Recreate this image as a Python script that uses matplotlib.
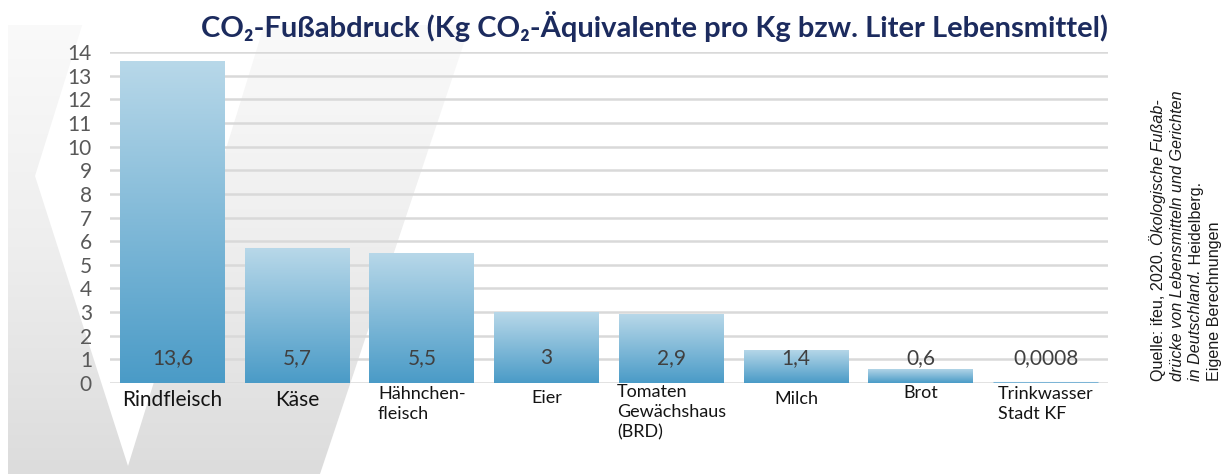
import numpy as np
import matplotlib
matplotlib.use("Agg")
import matplotlib.pyplot as plt
from matplotlib.patches import Polygon
from matplotlib.colors import LinearSegmentedColormap

# ---------------- data ----------------
categories = ["Rindfleisch", "Käse", "Hähnchen-\nfleisch", "Eier",
              "Tomaten\nGewächshaus\n(BRD)", "Milch", "Brot", "Trinkwasser\nStadt KF"]
values = [13.6, 5.7, 5.5, 3.0, 2.9, 1.4, 0.6, 0.0008]
value_labels = ["13,6", "5,7", "5,5", "3", "2,9", "1,4", "0,6", "0,0008"]
y_ticks = list(range(0, 15))
title = "CO₂-Fußabdruck (Kg CO₂-Äquivalente pro Kg bzw. Liter Lebensmittel)"
source_lines = [
    [("Quelle: ifeu, 2020. ", "normal"), ("Ökologische Fußab-", "italic")],
    [("drücke von Lebensmitteln und Gerichten", "italic")],
    [("in Deutschland.", "italic"), (" Heidelberg.", "normal")],
    [("Eigene Berechnungen", "normal")],
]

# ---------------- style ----------------
W, H, DPI = 1227, 474, 100
FONT = ["Lato", "DejaVu Sans"]
label_sizes = [15, 15, 13, 13, 13, 13, 13, 13]
label_offsets = [-5, -5, -2.5, -5, -1, -5.5, -1.5, -2.5]  # points below baseline

fig = plt.figure(figsize=(W / DPI, H / DPI), dpi=DPI)
fig.patch.set_facecolor("white")

# background decoration (grey panel with white chevron), in pixel coords
bg = fig.add_axes([0, 0, 1, 1], zorder=0)
bg.set_xlim(0, W)
bg.set_ylim(H, 0)
bg.axis("off")
grey_cmap = LinearSegmentedColormap.from_list("g", ["#fafafa", "#eeeeee", "#dcdcdc"])
grad = np.linspace(0, 1, 256).reshape(-1, 1)
im = bg.imshow(grad, cmap=grey_cmap, extent=[0, W, H, 20], aspect="auto", zorder=0)
panel = Polygon([(8, 25), (470, 25), (320, H), (8, H)], closed=True,
                facecolor="none", edgecolor="none", transform=bg.transData)
bg.add_patch(panel)
im.set_clip_path(panel)
chev = Polygon([(90, 0), (272, 0), (128, 466), (35, 176)], closed=True,
               facecolor="white", edgecolor="none", zorder=1)
bg.add_patch(chev)

# main axes
ax = fig.add_axes([110 / W, (H - 383) / H, 998 / W, (383 - 52) / H], zorder=2)
ax.patch.set_alpha(0)
x = np.arange(len(categories))
bars = ax.bar(x, values, width=0.84, color="none", linewidth=0, zorder=3)

blue_cmap = LinearSegmentedColormap.from_list("b", ["#4a9bc7", "#b8d8e9"])
for b in bars:
    x0, w, h = b.get_x(), b.get_width(), b.get_height()
    gim = ax.imshow(grad, cmap=blue_cmap, origin="lower",
                    extent=[x0, x0 + w, 0, max(h, 1e-9)], aspect="auto", zorder=3)
    gim.set_clip_path(b)
# very small bars still show as a thin sliver, as in the original chart
for b in bars:
    if b.get_height() < 0.05:
        ax.plot([b.get_x(), b.get_x() + b.get_width()], [0, 0],
                color="#7db5d6", linewidth=2.2, solid_capstyle="butt", zorder=4)

ax.set_xlim(-0.5, len(categories) - 0.5)
ax.set_ylim(0, 14)
ax.set_yticks(y_ticks)
ax.set_yticklabels([str(t) for t in y_ticks], fontsize=15, color="#595959", family=FONT)
ax.tick_params(axis="y", length=0, pad=13)
ax.set_xticks([])
for s in ax.spines.values():
    s.set_visible(False)
ax.yaxis.grid(True, color="#d9d9d9", linewidth=1.8, zorder=1)
ax.set_axisbelow(True)

for xi, lab in zip(x, value_labels):
    ax.text(xi, 1.05, lab, ha="center", va="center", fontsize=15,
            color="#404040", family=FONT, zorder=5)

for xi, cat, fs, off in zip(x, categories, label_sizes, label_offsets):
    ax.annotate(cat, xy=(xi, 0), xytext=(0, off), textcoords="offset points",
                ha="center", va="top", multialignment="left", fontsize=fs,
                color="#141414", family=FONT, linespacing=1.3, zorder=5)

fig.text(1108 / W, (H - 26) / H, title, ha="right", va="center",
         fontsize=21, fontweight="bold", color="#1c2b5e", family=FONT)

# rotated source text with mixed styles
fig.canvas.draw()
renderer = fig.canvas.get_renderer()
line_x = [1158, 1177, 1196, 1214]
for lx, segs in zip(line_x, source_lines):
    ypos = 381.0
    for txt, style in segs:
        t = fig.text(lx / W, (H - ypos) / H, txt, rotation=90, rotation_mode="anchor",
                     ha="left", va="center", fontsize=11.6, fontstyle=style,
                     family=["Liberation Sans", "DejaVu Sans"], color="#1a1a1a")
        bb = t.get_window_extent(renderer)
        ypos = H - bb.y1

fig.savefig("out.png", dpi=DPI)
